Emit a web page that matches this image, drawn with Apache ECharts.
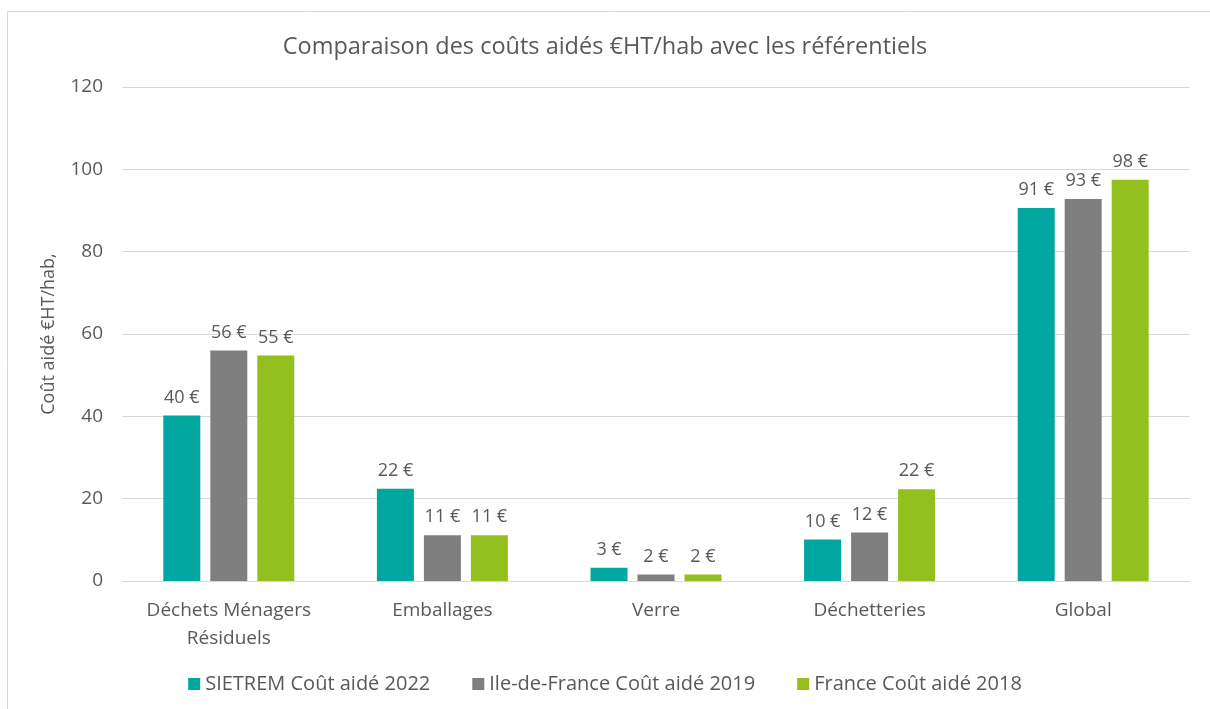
<!doctype html>
<html lang="fr">
<head>
    <meta charset="utf-8">
    <title>Comparaison des coûts aidés</title>
    <script src="https://cdn.jsdelivr.net/npm/echarts@6/dist/echarts.min.js"></script>
</head>
<body style="margin:0;">
<div id="chart" style="width:1210px;height:709px;"></div>
<script>

var categories = ['Déchets Ménagers\nRésiduels', 'Emballages', 'Verre', 'Déchetteries', 'Global'];
var sietrem2022 = [40.2, 22.4, 3.2, 10.1, 90.6];
var idf2019 = [56.0, 11.1, 1.6, 11.8, 92.8];
var france2018 = [54.8, 11.1, 1.6, 22.3, 97.5];
var seriesNames = ['SIETREM Coût aidé 2022', 'Ile-de-France Coût aidé 2019', 'France Coût aidé 2018'];
var yTicks = [0, 20, 40, 60, 80, 100, 120];

var font = "'Open Sans', sans-serif";
var textColor = '#595959';
var colors = ['#00A6A0', '#7F7F7F', '#93C01F'];

var myChart = echarts.init(document.getElementById('chart'));

function barSeries(name, data, color) {
    return {
        name: name,
        type: 'bar',
        data: data,
        barWidth: 37,
        barGap: '27%',
        itemStyle: {color: color},
        label: {
            show: true,
            position: 'top',
            distance: 9,
            color: textColor,
            fontFamily: font,
            fontSize: 18,
            formatter: function (p) { return Math.round(p.value) + ' €'; }
        }
    };
}

myChart.setOption({
    animation: false,
    graphic: [{
        type: 'rect',
        shape: {x: 7.5, y: 11.5, width: 1220, height: 720},
        style: {fill: 'none', stroke: '#d9d9d9', lineWidth: 1},
        silent: true
    }],
    title: {
        text: 'Comparaison des coûts aidés €HT/hab avec les référentiels',
        left: 'center',
        top: 30,
        textStyle: {color: textColor, fontFamily: font, fontSize: 23.5, fontWeight: 'normal'}
    },
    legend: {
        bottom: 10,
        left: 'center',
        itemWidth: 12,
        itemHeight: 12,
        itemGap: 42,
        icon: 'rect',
        textStyle: {color: textColor, fontFamily: font, fontSize: 20}
    },
    grid: {left: 122, right: 20, top: 87, bottom: 128},
    xAxis: {
        type: 'category',
        data: categories,
        axisLine: {lineStyle: {color: '#d9d9d9', width: 1}},
        axisTick: {show: false},
        axisLabel: {color: textColor, fontFamily: font, fontSize: 19, margin: 16, lineHeight: 28, interval: 0}
    },
    yAxis: {
        type: 'value',
        min: yTicks[0],
        max: yTicks[yTicks.length - 1],
        interval: yTicks[1] - yTicks[0],
        name: 'Coût aidé €HT/hab,',
        nameLocation: 'middle',
        nameGap: 64,
        nameTextStyle: {color: textColor, fontFamily: font, fontSize: 18},
        axisLine: {show: false},
        axisTick: {show: false},
        axisLabel: {color: textColor, fontFamily: font, fontSize: 19, margin: 19},
        splitLine: {lineStyle: {color: '#d9d9d9', width: 1}}
    },
    series: [
        barSeries(seriesNames[0], sietrem2022, colors[0]),
        barSeries(seriesNames[1], idf2019, colors[1]),
        barSeries(seriesNames[2], france2018, colors[2])
    ]
});

</script>
</body>
</html>
